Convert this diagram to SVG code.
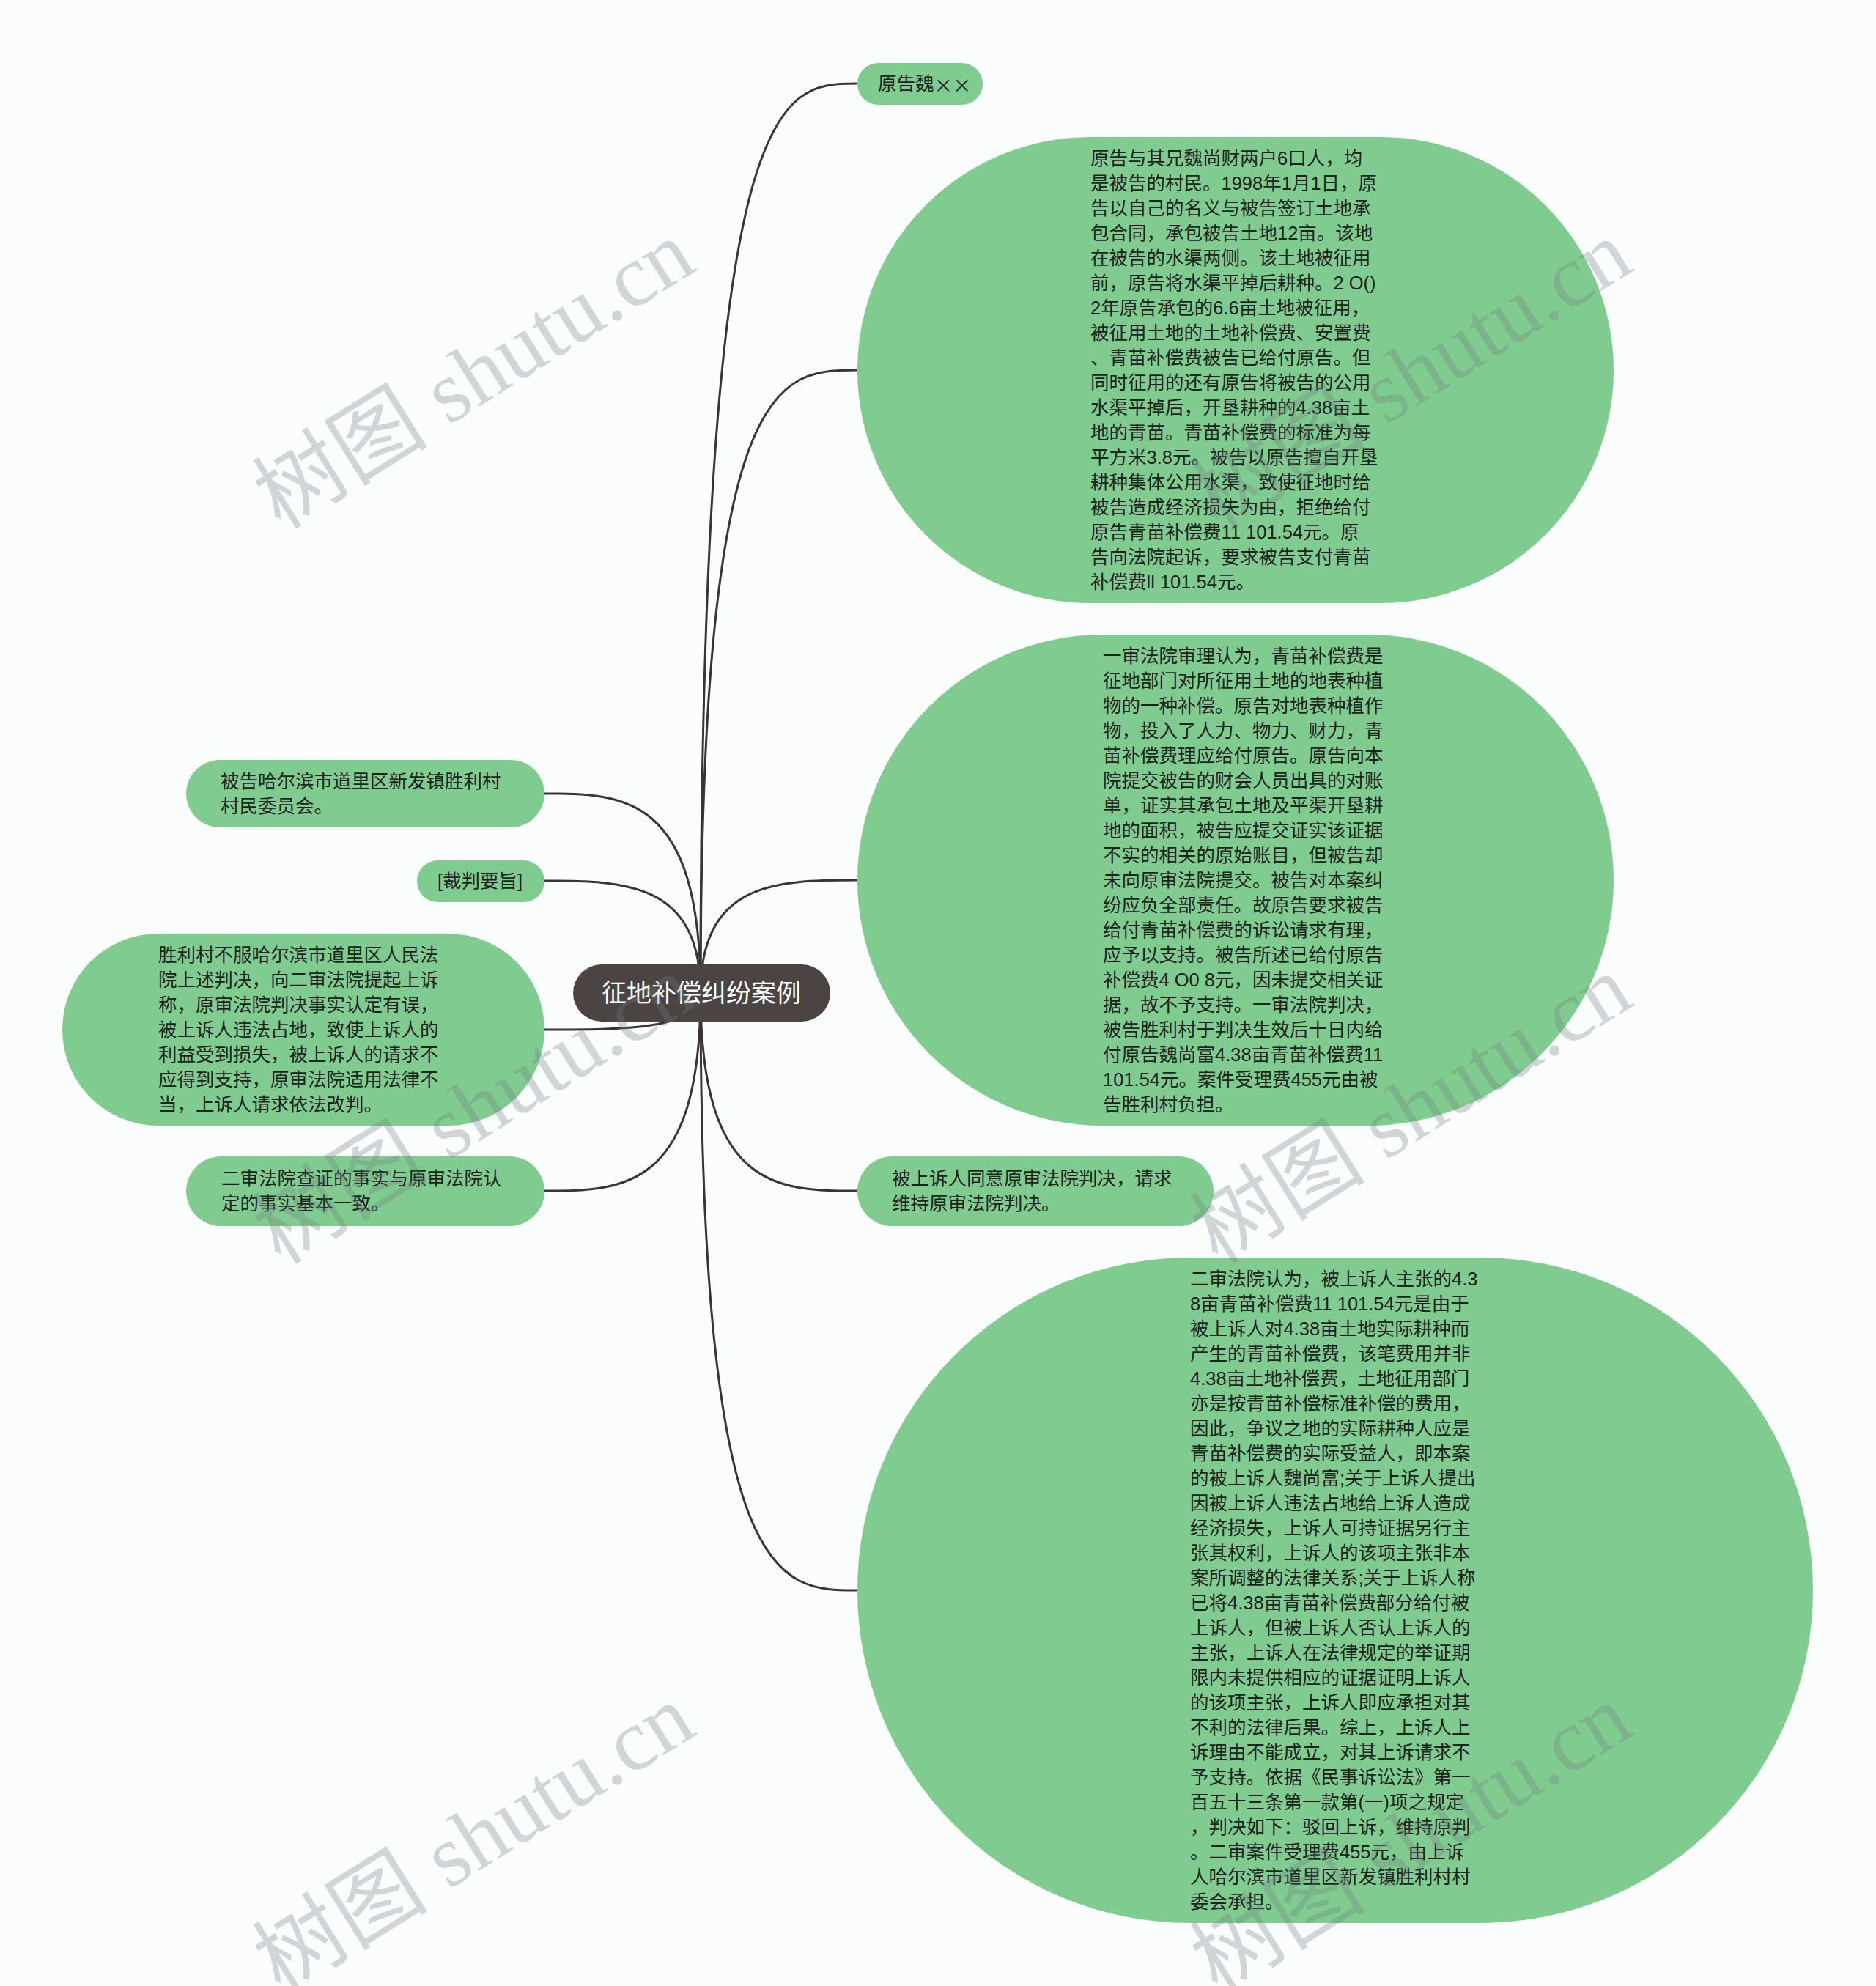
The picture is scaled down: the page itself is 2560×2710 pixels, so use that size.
<svg xmlns="http://www.w3.org/2000/svg" width="2560" height="2710" viewBox="0 0 2560 2710">
<style>
.bg{fill:#fbfdfd}
.leaf{fill:#80cc90}
.root{fill:#4b4443}
.t{font-family:"Liberation Sans","Noto Sans CJK SC",sans-serif;font-size:25.5px;fill:#1e221e}
.cjk{font-family:"Noto Sans CJK SC",sans-serif}
.rt{font-family:"Liberation Sans","Noto Sans CJK SC",sans-serif;font-size:34px;fill:#ffffff}
.edge{fill:none;stroke:#3a3434;stroke-width:3}
.wm{font-family:"Liberation Serif","Noto Sans CJK SC",serif;font-size:120px;fill:#6f7b80;fill-opacity:0.3}
</style>
<rect class="bg" x="0" y="0" width="2560" height="2710"/>
<g id="connectors">
<path class="edge" d="M956,1355 C956,114 1063,114 1170,114"/>
<path class="edge" d="M956,1355 C956,505 1063,505 1170,505"/>
<path class="edge" d="M956,1355 C956,1201 1063,1201 1170,1201"/>
<path class="edge" d="M956,1355 C956,1625 1063,1625 1170,1625"/>
<path class="edge" d="M956,1355 C956,2170 1063,2170 1170,2170"/>
<path class="edge" d="M956,1355 C956,1083 849.5,1083 743,1083"/>
<path class="edge" d="M956,1355 C956,1202 849.5,1202 743,1202"/>
<path class="edge" d="M956,1355 C956,1405 849.5,1405 743,1405"/>
<path class="edge" d="M956,1355 C956,1625 849.5,1625 743,1625"/>
</g>
<g id="root">
<rect class="root" x="782" y="1316" width="351" height="78" rx="39"/>
<text class="rt" x="957" y="1355" text-anchor="middle" dominant-baseline="central">征地补偿纠纷案例</text>
</g>
<g id="n-plaintiff">
<rect class="leaf" x="1170" y="86" width="171" height="57" rx="28.5"/>
<text class="t" x="1198" y="114" dominant-baseline="central">原告魏<tspan class="cjk">××</tspan></text>
</g>
<g id="n-facts">
<rect class="leaf" x="1170" y="187" width="1032" height="636" rx="318"/>
<text class="t" dominant-baseline="central">
<tspan x="1488" y="216">原告与其兄魏尚财两户6口人，均</tspan>
<tspan x="1488" dy="34">是被告的村民。1998年1月1日，原</tspan>
<tspan x="1488" dy="34">告以自己的名义与被告签订土地承</tspan>
<tspan x="1488" dy="34">包合同，承包被告土地12亩。该地</tspan>
<tspan x="1488" dy="34">在被告的水渠两侧。该土地被征用</tspan>
<tspan x="1488" dy="34">前，原告将水渠平掉后耕种。2 O()</tspan>
<tspan x="1488" dy="34">2年原告承包的6.6亩土地被征用，</tspan>
<tspan x="1488" dy="34">被征用土地的土地补偿费、安置费</tspan>
<tspan x="1488" dy="34">、青苗补偿费被告已给付原告。但</tspan>
<tspan x="1488" dy="34">同时征用的还有原告将被告的公用</tspan>
<tspan x="1488" dy="34">水渠平掉后，开垦耕种的4.38亩土</tspan>
<tspan x="1488" dy="34">地的青苗。青苗补偿费的标准为每</tspan>
<tspan x="1488" dy="34">平方米3.8元。被告以原告擅自开垦</tspan>
<tspan x="1488" dy="34">耕种集体公用水渠，致使征地时给</tspan>
<tspan x="1488" dy="34">被告造成经济损失为由，拒绝给付</tspan>
<tspan x="1488" dy="34">原告青苗补偿费11 101.54元。原</tspan>
<tspan x="1488" dy="34">告向法院起诉，要求被告支付青苗</tspan>
<tspan x="1488" dy="34">补偿费ll 101.54元。</tspan>
</text>
</g>
<g id="n-first-instance">
<rect class="leaf" x="1170" y="866" width="1032" height="670" rx="335"/>
<text class="t" dominant-baseline="central">
<tspan x="1505" y="895">一审法院审理认为，青苗补偿费是</tspan>
<tspan x="1505" dy="34">征地部门对所征用土地的地表种植</tspan>
<tspan x="1505" dy="34">物的一种补偿。原告对地表种植作</tspan>
<tspan x="1505" dy="34">物，投入了人力、物力、财力，青</tspan>
<tspan x="1505" dy="34">苗补偿费理应给付原告。原告向本</tspan>
<tspan x="1505" dy="34">院提交被告的财会人员出具的对账</tspan>
<tspan x="1505" dy="34">单，证实其承包土地及平渠开垦耕</tspan>
<tspan x="1505" dy="34">地的面积，被告应提交证实该证据</tspan>
<tspan x="1505" dy="34">不实的相关的原始账目，但被告却</tspan>
<tspan x="1505" dy="34">未向原审法院提交。被告对本案纠</tspan>
<tspan x="1505" dy="34">纷应负全部责任。故原告要求被告</tspan>
<tspan x="1505" dy="34">给付青苗补偿费的诉讼请求有理，</tspan>
<tspan x="1505" dy="34">应予以支持。被告所述已给付原告</tspan>
<tspan x="1505" dy="34">补偿费4 O0 8元，因未提交相关证</tspan>
<tspan x="1505" dy="34">据，故不予支持。一审法院判决，</tspan>
<tspan x="1505" dy="34">被告胜利村于判决生效后十日内给</tspan>
<tspan x="1505" dy="34">付原告魏尚富4.38亩青苗补偿费11</tspan>
<tspan x="1505" dy="34">101.54元。案件受理费455元由被</tspan>
<tspan x="1505" dy="34">告胜利村负担。</tspan>
</text>
</g>
<g id="n-appellee">
<rect class="leaf" x="1170" y="1578" width="486" height="95" rx="47.5"/>
<text class="t" dominant-baseline="central">
<tspan x="1217" y="1608">被上诉人同意原审法院判决，请求</tspan>
<tspan x="1217" dy="34">维持原审法院判决。</tspan>
</text>
</g>
<g id="n-second-instance">
<rect class="leaf" x="1170" y="1716" width="1304" height="908" rx="454"/>
<text class="t" dominant-baseline="central">
<tspan x="1624" y="1745">二审法院认为，被上诉人主张的4.3</tspan>
<tspan x="1624" dy="34">8亩青苗补偿费11 101.54元是由于</tspan>
<tspan x="1624" dy="34">被上诉人对4.38亩土地实际耕种而</tspan>
<tspan x="1624" dy="34">产生的青苗补偿费，该笔费用并非</tspan>
<tspan x="1624" dy="34">4.38亩土地补偿费，土地征用部门</tspan>
<tspan x="1624" dy="34">亦是按青苗补偿标准补偿的费用，</tspan>
<tspan x="1624" dy="34">因此，争议之地的实际耕种人应是</tspan>
<tspan x="1624" dy="34">青苗补偿费的实际受益人，即本案</tspan>
<tspan x="1624" dy="34">的被上诉人魏尚富;关于上诉人提出</tspan>
<tspan x="1624" dy="34">因被上诉人违法占地给上诉人造成</tspan>
<tspan x="1624" dy="34">经济损失，上诉人可持证据另行主</tspan>
<tspan x="1624" dy="34">张其权利，上诉人的该项主张非本</tspan>
<tspan x="1624" dy="34">案所调整的法律关系;关于上诉人称</tspan>
<tspan x="1624" dy="34">已将4.38亩青苗补偿费部分给付被</tspan>
<tspan x="1624" dy="34">上诉人，但被上诉人否认上诉人的</tspan>
<tspan x="1624" dy="34">主张，上诉人在法律规定的举证期</tspan>
<tspan x="1624" dy="34">限内未提供相应的证据证明上诉人</tspan>
<tspan x="1624" dy="34">的该项主张，上诉人即应承担对其</tspan>
<tspan x="1624" dy="34">不利的法律后果。综上，上诉人上</tspan>
<tspan x="1624" dy="34">诉理由不能成立，对其上诉请求不</tspan>
<tspan x="1624" dy="34">予支持。依据《民事诉讼法》第一</tspan>
<tspan x="1624" dy="34">百五十三条第一款第(一)项之规定</tspan>
<tspan x="1624" dy="34">，判决如下：驳回上诉，维持原判</tspan>
<tspan x="1624" dy="34">。二审案件受理费455元，由上诉</tspan>
<tspan x="1624" dy="34">人哈尔滨市道里区新发镇胜利村村</tspan>
<tspan x="1624" dy="34">委会承担。</tspan>
</text>
</g>
<g id="n-defendant">
<rect class="leaf" x="254" y="1037" width="489" height="92" rx="46"/>
<text class="t" dominant-baseline="central">
<tspan x="301" y="1066">被告哈尔滨市道里区新发镇胜利村</tspan>
<tspan x="301" dy="34">村民委员会。</tspan>
</text>
</g>
<g id="n-gist">
<rect class="leaf" x="569" y="1174" width="174" height="57" rx="28.5"/>
<text class="t" x="597" y="1202" dominant-baseline="central">[裁判要旨]</text>
</g>
<g id="n-appeal">
<rect class="leaf" x="85" y="1274" width="658" height="262" rx="131"/>
<text class="t" dominant-baseline="central">
<tspan x="216" y="1303">胜利村不服哈尔滨市道里区人民法</tspan>
<tspan x="216" dy="34">院上述判决，向二审法院提起上诉</tspan>
<tspan x="216" dy="34">称，原审法院判决事实认定有误，</tspan>
<tspan x="216" dy="34">被上诉人违法占地，致使上诉人的</tspan>
<tspan x="216" dy="34">利益受到损失，被上诉人的请求不</tspan>
<tspan x="216" dy="34">应得到支持，原审法院适用法律不</tspan>
<tspan x="216" dy="34">当，上诉人请求依法改判。</tspan>
</text>
</g>
<g id="n-verified">
<rect class="leaf" x="254" y="1578" width="489" height="95" rx="47.5"/>
<text class="t" dominant-baseline="central">
<tspan x="302" y="1608">二审法院查证的事实与原审法院认</tspan>
<tspan x="302" dy="34">定的事实基本一致。</tspan>
</text>
</g>
<g id="watermarks">
<text class="wm" transform="translate(646,510) rotate(-32)" x="0" y="42" text-anchor="middle">树图 shutu.cn</text>
<text class="wm" transform="translate(1925,510) rotate(-32)" x="0" y="42" text-anchor="middle">树图 shutu.cn</text>
<text class="wm" transform="translate(646,1513) rotate(-32)" x="0" y="42" text-anchor="middle">树图 shutu.cn</text>
<text class="wm" transform="translate(1925,1513) rotate(-32)" x="0" y="42" text-anchor="middle">树图 shutu.cn</text>
<text class="wm" transform="translate(646,2508) rotate(-32)" x="0" y="42" text-anchor="middle">树图 shutu.cn</text>
<text class="wm" transform="translate(1925,2508) rotate(-32)" x="0" y="42" text-anchor="middle">树图 shutu.cn</text>
</g>
</svg>
